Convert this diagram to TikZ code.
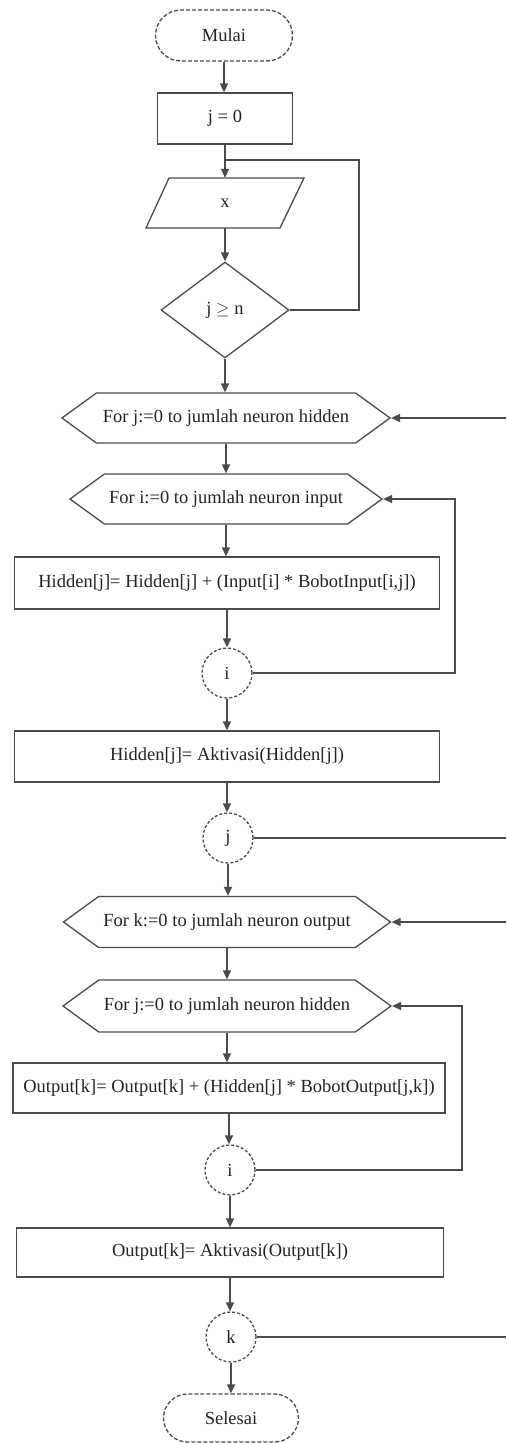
\documentclass[tikz,border=0pt]{standalone}
\usepackage{fontspec}
\setmainfont{Liberation Serif}
\usetikzlibrary{shapes.geometric,shapes.misc,shapes.symbols,arrows.meta,calc}
\definecolor{lncol}{RGB}{75,75,75}
\definecolor{txcol}{RGB}{35,35,35}
\begin{document}
\begin{tikzpicture}[x=1pt,y=-1pt,
  every node/.style={font=\fontsize{18.5}{22}\selectfont, text=txcol, inner sep=0pt},
  base/.style={draw=lncol, line width=1.3pt},
  term/.style={base, rounded rectangle, dash pattern=on 4pt off 2pt},
  proc/.style={base, rectangle},
  dec/.style={base, diamond},
  loopbox/.style={base, signal, signal to=west and east, signal pointer angle=72},
  conn/.style={base, circle, minimum size=50pt, dash pattern=on 3pt off 2pt},
  arr/.style={draw=lncol, line width=1.3pt, -{Triangle[length=9pt,width=8pt]}},
  plain/.style={draw=lncol, line width=1.3pt}
]
\useasboundingbox (0,0) rectangle (506,1443);

\node[term, minimum width=137pt, minimum height=51pt] (start) at (224,35.5) {Mulai};
\node[proc, minimum width=135pt, minimum height=51pt] (j0) at (225,118.5) {j = 0};
\node[minimum width=120pt, minimum height=50pt] (x) at (225,203) {x};
\draw[plain] ($(x.center)+(-56,-25)$) -- ($(x.center)+(79,-25)$) -- ($(x.center)+(55,25)$) -- ($(x.center)+(-79,25)$) -- cycle;
\node[dec, minimum width=128pt, minimum height=96pt] (d) at (225,310) {j \(\geq\) n};

\node[loopbox, minimum width=328pt, minimum height=50pt] (h1) at (226,418) {For j:=0 to jumlah neuron hidden};
\node[loopbox, minimum width=312pt, minimum height=50pt] (h2) at (226,499) {For i:=0 to jumlah neuron input};
\node[proc, minimum width=425pt, minimum height=52pt] (b1) at (227,583) {Hidden[j]= Hidden[j] + (Input[i] * BobotInput[i,j])};
\node[conn] (i1) at (227,673) {i};
\node[proc, minimum width=425pt, minimum height=51pt] (b2) at (227,756.5) {Hidden[j]= Aktivasi(Hidden[j])};
\node[conn] (jc) at (228,838) {j};

\node[loopbox, minimum width=327pt, minimum height=51pt] (h3) at (227,922) {For k:=0 to jumlah neuron output};
\node[loopbox, minimum width=328pt, minimum height=52pt] (h4) at (227,1006) {For j:=0 to jumlah neuron hidden};
\node[proc, minimum width=432pt, minimum height=50pt] (b3) at (229,1088) {Output[k]= Output[k] + (Hidden[j] * BobotOutput[j,k])};
\node[conn] (i2) at (230,1170) {i};
\node[proc, minimum width=427pt, minimum height=49pt] (b4) at (230,1252.5) {Output[k]= Aktivasi(Output[k])};
\node[conn] (kc) at (231,1337) {k};
\node[term, minimum width=135pt, minimum height=48pt] (stop) at (231,1418) {Selesai};

\draw[arr] (start.south) -- (start.south |- j0.north);
\draw[arr] (j0.south) -- (j0.south |- x.north);
\draw[arr] (x.south) -- (x.south |- d.north);
\draw[arr] (d.south) -- (d.south |- h1.north);
\draw[arr] (h1.south) -- (h1.south |- h2.north);
\draw[arr] (h2.south) -- (h2.south |- b1.north);
\draw[arr] (b1.south) -- (b1.south |- i1.north);
\draw[arr] (i1.south) -- (i1.south |- b2.north);
\draw[arr] (b2.south) -- (b2.south |- jc.north);
\draw[arr] (jc.south) -- (jc.south |- h3.north);
\draw[arr] (h3.south) -- (h3.south |- h4.north);
\draw[arr] (h4.south) -- (h4.south |- b3.north);
\draw[arr] (b3.south) -- (b3.south |- i2.north);
\draw[arr] (i2.south) -- (i2.south |- b4.north);
\draw[arr] (b4.south) -- (b4.south |- kc.north);
\draw[arr] (kc.south) -- (kc.south |- stop.north);

\coordinate (c1) at (359,160);
\draw[plain] (d.east) -- (d.east -| c1) -- (c1) -- (c1 -| j0.south);

\coordinate (r2) at (455,0);
\draw[arr] (i1.east) -| (r2 |- h2.east) -- (h2.east);
\coordinate (r4) at (462,0);
\draw[arr] (i2.east) -| (r4 |- h4.east) -- (h4.east);

\coordinate (edge) at (506,0);
\draw[plain] (jc.east) -- (jc.east -| edge);
\draw[arr] (h1.east -| edge) -- (h1.east);
\draw[plain] (kc.east) -- (kc.east -| edge);
\draw[arr] (h3.east -| edge) -- (h3.east);
\end{tikzpicture}
\end{document}
